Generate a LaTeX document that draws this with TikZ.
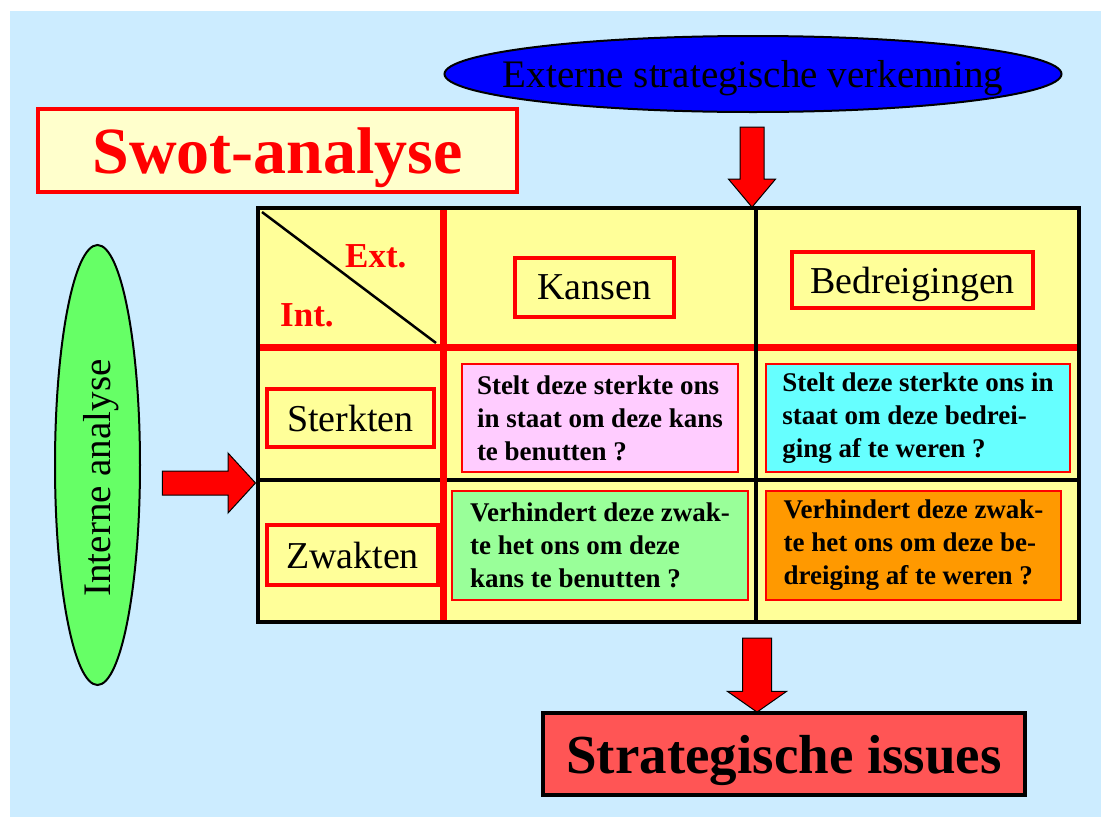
\documentclass[tikz,border=0pt]{standalone}
\usepackage{fontspec}
\setmainfont{Liberation Serif}
\usetikzlibrary{shapes.geometric,shapes.arrows}
\definecolor{bgblue}{RGB}{204,236,255}
\definecolor{gridyellow}{RGB}{255,255,153}
\definecolor{titleyellow}{RGB}{255,255,204}
\definecolor{pinkcell}{RGB}{255,204,255}
\definecolor{cyancell}{RGB}{102,255,255}
\definecolor{greencell}{RGB}{153,255,153}
\definecolor{orangecell}{RGB}{255,153,0}
\definecolor{issuered}{RGB}{255,85,85}
\definecolor{ovalgreen}{RGB}{102,255,102}

\begin{document}
\begin{tikzpicture}[x=1pt,y=-1pt,line join=miter,
  hdrbox/.style={draw=red,line width=3.5pt,inner sep=0pt,text depth=0pt,font=\fontsize{38}{40}\selectfont},
  cellbox/.style={draw=red,line width=1.5pt,inner sep=0pt,align=left,font=\fontsize{27}{33}\selectfont\bfseries},
  redarrow/.style={single arrow,draw=black,fill=red,line width=1pt,inner xsep=0pt},
  bigtext/.style={inner sep=0pt,text depth=0pt,font=\fontsize{39}{40}\selectfont}]
\useasboundingbox (0,0) rectangle (1101,817);
\fill[white] (0,0) rectangle (1101,817);
\fill[bgblue] (10,11) rectangle (1101,817);

\node[ellipse,draw=black,line width=2pt,fill=blue,minimum width=617,minimum height=76,inner sep=0pt] (extern) at (753,74) {};
\node[bigtext] (externtxt) at (extern.center) {Externe strategische verkenning};

\node[draw=red,line width=4pt,fill=titleyellow,minimum width=479,minimum height=83,inner sep=0pt,
  text=red,text depth=0pt,font=\fontsize{66}{70}\selectfont\bfseries] (swot) at (277.5,150.5) {Swot-analyse};

\node[ellipse,draw=black,line width=2pt,fill=ovalgreen,minimum width=85,minimum height=440,inner sep=0pt] (intern) at (97.5,465) {};
\node[bigtext,rotate=90] (interntxt) at (97,478) {Interne analyse};

% het raster
\node[draw=black,line width=3.5pt,fill=gridyellow,minimum width=821,minimum height=414,inner sep=0pt] (grid) at (668.5,415) {};
\draw[line width=2.5pt] (262,212) -- (436,343);
\draw[red,line width=7pt] (260,347) -- (1077,347);
\draw[line width=3.5pt] (756,210) -- (756,620);
\draw[line width=3.5pt] (260,480) -- (1077,480);
\draw[red,line width=7pt] (443,210) -- (443,620);

\node[red,font=\fontsize{35}{38}\selectfont\bfseries,anchor=base west,inner sep=0pt] (extlbl) at (345,267) {Ext.};
\node[red,font=\fontsize{35}{38}\selectfont\bfseries,anchor=base west,inner sep=0pt] (intlbl) at (280,326) {Int.};

\node[hdrbox,minimum width=159,minimum height=59] (kansen) at (594.5,287.5) {Kansen};
\node[hdrbox,minimum width=241,minimum height=56] (bedreig) at (912.5,280) {Bedreigingen};
\node[hdrbox,minimum width=167,minimum height=58] (sterkten) at (350.5,418) {Sterkten};
\node[hdrbox,minimum width=171,minimum height=60] (zwakten) at (352.5,555) {Zwakten};

\node[cellbox,fill=pinkcell,minimum width=276,minimum height=108] (sk) at (600,418)
  {Stelt deze sterkte ons\\in staat om deze kans\\te benutten ?};
\node[cellbox,fill=cyancell,minimum width=304,minimum height=108] (sb) at (918,418)
  {Stelt deze sterkte ons in\\staat om deze bedrei-\\ging af te weren ?};
\node[cellbox,fill=greencell,minimum width=296,minimum height=109] (zk) at (600,545.5)
  {Verhindert deze zwak-\\te het ons om deze\\kans te benutten ?};
\node[cellbox,fill=orangecell,minimum width=295,minimum height=109] (zb) at (913.5,545.5)
  {Verhindert deze zwak-\\te het ons om deze be-\\dreiging af te weren ?};

% pijlen
\node[redarrow,rotate=-90,minimum height=80,inner ysep=11.5pt,single arrow head extend=11.5pt,single arrow tip angle=80] (arrext) at (752,160) {};
\node[redarrow,minimum height=93,inner ysep=11.5pt,single arrow head extend=18pt,single arrow tip angle=95] (arrint) at (203.5,483) {};
\node[redarrow,rotate=-90,minimum height=74,inner ysep=14pt,single arrow head extend=15pt,single arrow tip angle=110] (arrissue) at (757,670) {};

\node[draw=black,line width=3.5pt,fill=issuered,minimum width=482,minimum height=82,inner sep=0pt,
  text depth=0pt,font=\fontsize{55}{60}\selectfont\bfseries] (issues) at (784,754) {Strategische issues};
\end{tikzpicture}
\end{document}
